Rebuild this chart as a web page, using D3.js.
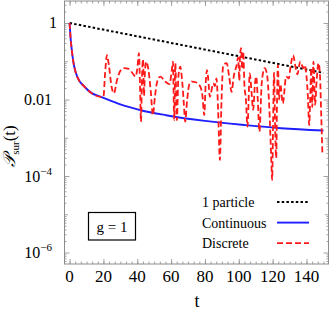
<!DOCTYPE html>
<html><head><meta charset="utf-8">
<script src="https://cdn.jsdelivr.net/npm/d3@7"></script>
<style>body{margin:0;background:#fff}</style>
</head><body><svg id="c" width="332" height="312"></svg>
<script>
// ---- data ----
const xTickValues=[0,20,40,60,80,100,120,140];
const yTickValues=[1,1e-2,1e-4,1e-6];
const yTickBase=["1","0.01","10","10"];
const yTickExp=["","","\u22124","\u22126"];
const singleT=[0,150];
const singleP=[1,0.0498];
const contT=[0,0.3,0.6,1.2,2,2.8,4.7,8.7,12.6,18.5,25.4,30,42,57,80,104,125,150];
const contLog10=[0,-0.2,-0.4,-0.66,-0.95,-1.15,-1.42,-1.66,-1.82,-1.93,-2.05,-2.13,-2.28,-2.41,-2.56,-2.67,-2.75,-2.81];
const discT=[0,0.3,0.6,1.2,2,2.8,4.7,8.7,12.6,18.5,20,21,22.1,23.2,24.8,26.2,28,30,32.1,35,37,39,40,41,41.6,42.2,42.8,43.4,44,44.5,45.3,46.5,48,49.2,50.5,51.8,53.6,56.5,59,60.5,61.1,61.8,62.5,63.4,64.3,65.4,66.5,67.5,68.3,69.5,70.8,72.3,74.5,77.2,78.5,79.6,80.4,81.2,81.9,82.9,84.9,85.8,86.8,87.8,88.8,89.8,90.8,92.8,94.3,95.7,97,98.7,99.6,100.3,100.8,101.4,102,102.6,103.3,104.2,105.1,106.5,107.5,108.5,109.5,110.3,111.2,112.2,113.5,115.2,116.5,118,119.1,119.7,120.3,120.8,121.4,122.1,122.6,123.1,123.8,124.5,126,128,129.5,130.7,132.1,133.3,134.6,136.3,138.2,139,140,140.8,141.6,142.3,142.8,143.4,144.1,145.1,146,147.1,148,148.7,149.4];
const discLog10=[0,-0.2,-0.4,-0.66,-0.95,-1.15,-1.42,-1.66,-1.82,-1.93,-1.93,-1.3,-0.84,-1.1,-1.66,-1.84,-1.5,-1.25,-1.18,-1.2,-1.3,-1.4,-1.2,-0.79,-1.6,-2.58,-1.4,-0.95,-1.9,-1.3,-1.01,-1.2,-1.8,-2.41,-1.9,-1.53,-1.4,-1.53,-1.6,-1.2,-1.01,-2.54,-1.05,-2.54,-1.4,-1.14,-1.5,-2.1,-2.58,-2.0,-1.6,-1.53,-1.55,-1.66,-1.9,-2.41,-1.6,-1.23,-1.45,-1.93,-1.58,-1.65,-1.45,-2.3,-3.58,-2.0,-1.1,-1.05,-1.4,-1.8,-1.4,-1.1,-0.9,-1.5,-0.8,-0.66,-1.2,-0.75,-1.6,-2.0,-2.71,-1.32,-1.8,-2.27,-1.6,-1.4,-2.0,-2.84,-1.6,-1.18,-1.3,-2.2,-3.45,-4.1,-2.5,-1.3,-2.6,-3.53,-2.0,-1.1,-2.0,-1.6,-2.1,-1.4,-1.45,-1.1,-0.84,-1.1,-1.34,-1.01,-1.18,-1.1,-1.4,-1.9,-2.67,-1.8,-1.18,-2.2,-1.01,-2.14,-1.5,-1.05,-1.4,-2.4,-3.41];
const legendLabels=["1 particle","Continuous","Discrete"];
const legendColors=["#000","#1f1fff","#ff1a1a"];
const legendDash=["2.5,2.2","none","6,3"];
const legendWidth=[2,1.9,1.8];

// ---- layout ----
const L=64.5,R=328.5,T=1,B=264;
const x=d3.scaleLinear().domain([-3,153]).range([L,R]);
const y=d3.scaleLog().domain([Math.pow(10,-6.3),Math.pow(10,0.575)]).range([B,T]);
const svg=d3.select("#c");
const serif="'Liberation Serif','DejaVu Serif',serif";
const gray="#8c8c8c";

// minor ticks
const xMinor=d3.range(0,153,20/6);
const yMinor=[];
for(let k=-7;k<=0;k++)for(let m=2;m<=9;m++){const v=m*Math.pow(10,k);if(v>y.domain()[0]&&v<y.domain()[1])yMinor.push(v);}
const yMid=[1e-1,1e-3,1e-5];

function axisG(axis,tr){
  const g=svg.append("g").attr("transform",tr).call(axis);
  g.select(".domain").remove();
  g.selectAll("line").attr("stroke",gray).attr("stroke-width",0.8);
  g.selectAll("text").remove();
  return g;
}
axisG(d3.axisBottom(x).tickValues(xTickValues).tickSizeInner(-5).tickSizeOuter(0),`translate(0,${B})`);
axisG(d3.axisBottom(x).tickValues(xMinor).tickSizeInner(-2.5).tickSizeOuter(0),`translate(0,${B})`);
axisG(d3.axisTop(x).tickValues(xTickValues).tickSizeInner(-5).tickSizeOuter(0),`translate(0,${T})`);
axisG(d3.axisTop(x).tickValues(xMinor).tickSizeInner(-2.5).tickSizeOuter(0),`translate(0,${T})`);
axisG(d3.axisLeft(y).tickValues(yTickValues).tickSizeInner(-5).tickSizeOuter(0),`translate(${L},0)`);
axisG(d3.axisLeft(y).tickValues(yMid).tickSizeInner(-3.5).tickSizeOuter(0),`translate(${L},0)`);
axisG(d3.axisLeft(y).tickValues(yMinor).tickSizeInner(-2).tickSizeOuter(0),`translate(${L},0)`);
axisG(d3.axisRight(y).tickValues(yTickValues).tickSizeInner(-5).tickSizeOuter(0),`translate(${R},0)`);
axisG(d3.axisRight(y).tickValues(yMid).tickSizeInner(-3.5).tickSizeOuter(0),`translate(${R},0)`);
axisG(d3.axisRight(y).tickValues(yMinor).tickSizeInner(-2).tickSizeOuter(0),`translate(${R},0)`);

// frame
svg.append("rect").attr("x",L).attr("y",T).attr("width",R-L).attr("height",B-T)
  .attr("fill","none").attr("stroke",gray).attr("stroke-width",1);

// tick labels
svg.append("g").selectAll("text").data(xTickValues).join("text")
  .attr("x",d=>x(d)).attr("y",B+18).attr("text-anchor","middle")
  .attr("font-family",serif).attr("font-size",17).text(d=>d);
const yl=svg.append("g").selectAll("text").data(yTickValues).join("text")
  .attr("x",(d,i)=>i===0?57:52).attr("y",d=>y(d)+5.5).attr("text-anchor","end")
  .attr("font-family",serif).attr("font-size",16);
yl.append("tspan").text((d,i)=>yTickBase[i]);
yl.append("tspan").attr("dy",-7).attr("font-size",11).text((d,i)=>yTickExp[i]);

// axis titles
svg.append("text").attr("x",197).attr("y",307).attr("text-anchor","middle")
  .attr("font-family",serif).attr("font-size",18).text("t");
const yt=svg.append("text").attr("transform","translate(15,146) rotate(-90)").attr("text-anchor","middle")
  .attr("font-family",serif).attr("font-size",17);
yt.append("tspan").attr("font-family","'DejaVu Serif','DejaVu Sans',serif").attr("font-style","italic").text("\u{1D4AB}");
yt.append("tspan").attr("font-size",11).attr("dy",4).text("sur");
yt.append("tspan").attr("dy",-4).text("(t)");

// lines
svg.append("clipPath").attr("id","cp").append("rect").attr("x",L).attr("y",T).attr("width",R-L).attr("height",B-T);
const pg=svg.append("g").attr("clip-path","url(#cp)");
const line=d3.line().x(d=>x(d[0])).y(d=>y(d[1]));
pg.append("path").datum(singleT.map((t,i)=>[t,singleP[i]])).attr("d",line)
  .attr("fill","none").attr("stroke",legendColors[0]).attr("stroke-width",legendWidth[0]).attr("stroke-dasharray",legendDash[0]);
pg.append("path").datum(contT.map((t,i)=>[t,Math.pow(10,contLog10[i])])).attr("d",line.curve(d3.curveMonotoneX))
  .attr("fill","none").attr("stroke",legendColors[1]).attr("stroke-width",legendWidth[1]);
pg.append("path").datum(discT.map((t,i)=>[t,Math.pow(10,discLog10[i])])).attr("d",line.curve(d3.curveMonotoneX))
  .attr("fill","none").attr("stroke",legendColors[2]).attr("stroke-width",legendWidth[2]).attr("stroke-dasharray",legendDash[2]);

// legend
const lg=svg.append("g");
legendLabels.forEach((s,i)=>{
  const yy=202+i*20.6;
  lg.append("text").attr("x",202).attr("y",yy+5).attr("font-family",serif).attr("font-size",14).text(s);
  lg.append("line").attr("x1",277).attr("x2",309).attr("y1",yy).attr("y2",yy)
    .attr("stroke",legendColors[i]).attr("stroke-width",legendWidth[i]).attr("stroke-dasharray",legendDash[i]);
});

// g = 1 box
svg.append("rect").attr("x",88.5).attr("y",212.5).attr("width",47).attr("height",27.5)
  .attr("fill","#fff").attr("stroke","#000").attr("stroke-width",1.2);
svg.append("text").attr("x",112).attr("y",231.5).attr("text-anchor","middle")
  .attr("font-family",serif).attr("font-size",15).text("g = 1");
</script></body></html>
